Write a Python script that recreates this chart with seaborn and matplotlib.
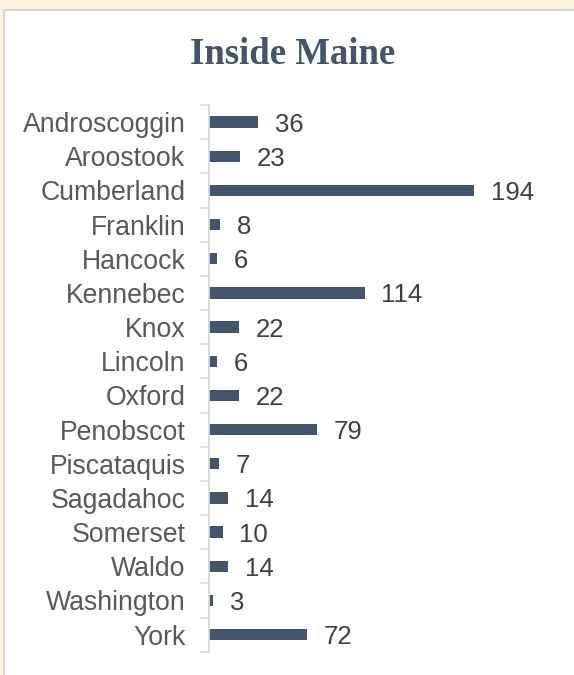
import matplotlib
matplotlib.use("Agg")
import matplotlib.pyplot as plt
import seaborn as sns
import pandas as pd
from matplotlib.patches import Rectangle

counties = ["Androscoggin", "Aroostook", "Cumberland", "Franklin", "Hancock",
            "Kennebec", "Knox", "Lincoln", "Oxford", "Penobscot", "Piscataquis",
            "Sagadahoc", "Somerset", "Waldo", "Washington", "York"]
values = [36, 23, 194, 8, 6, 114, 22, 6, 22, 79, 7, 14, 10, 14, 3, 72]
title = "Inside Maine"

df = pd.DataFrame({"county": counties, "value": values})

sns.set_theme(style="white")
plt.rcParams["font.family"] = ["Liberation Sans", "DejaVu Sans"]

fig = plt.figure(figsize=(5.74, 6.75), dpi=100)
fig.patch.set_facecolor("#FCF1DE")
panel = Rectangle((4 / 574, -0.05), 1.05, 1 - 10 / 675 + 0.05,
                  transform=fig.transFigure, facecolor="white",
                  edgecolor="#D6D6D6", linewidth=1.5, zorder=-10)
fig.patches.append(panel)

ax = fig.add_axes([209 / 574, 1 - 651.7 / 675, (560 - 209) / 574, (651.7 - 105) / 675])
ax.set_zorder(5)
ax.set_facecolor("none")

bar_color = "#44546A"
sns.barplot(data=df, x="value", y="county", orient="h", color=bar_color,
            width=0.33, saturation=1, ax=ax, edgecolor="none")

ax.set_xlim(0, 351 / 1.366)
ax.set_ylim(len(counties) - 0.5, -0.5)
ax.set_xlabel("")
ax.set_ylabel("")
ax.set_xticks([])

for s in ["top", "right", "bottom"]:
    ax.spines[s].set_visible(False)
ax.spines["left"].set_color("#D9D9D9")
ax.spines["left"].set_linewidth(1.3)

ax.set_yticks(range(len(counties)))
ax.set_yticklabels(counties)
ax.tick_params(axis="y", which="major", length=0, pad=17, labelsize=19.2,
               labelcolor="#595959")
ax.set_yticks([i - 0.5 for i in range(len(counties) + 1)], minor=True)
ax.tick_params(axis="y", which="minor", length=6.5, width=1.1, color="#D9D9D9",
               direction="out", left=True)

for c in ax.containers:
    texts = ax.bar_label(c, labels=[str(v) for v in values], padding=12,
                         fontsize=18.5, color="#404040")
    for t in texts:
        t.set_va("center_baseline")

fig.text(293 / 574, 1 - 55 / 675, title, ha="center", va="center",
         fontsize=26.5, fontweight="bold", color="#44546A",
         family=["Liberation Serif", "DejaVu Serif"], zorder=6)

fig.savefig("out.png", dpi=100, facecolor=fig.get_facecolor())
